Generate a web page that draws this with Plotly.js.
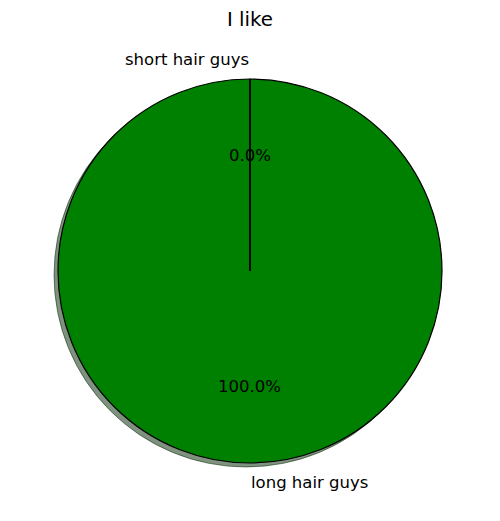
<!DOCTYPE html>
<html>
<head>
<meta charset="utf-8">
<script src="https://cdn.plot.ly/plotly-3.0.1.min.js"></script>
<style>html,body{margin:0;padding:0;background:#fff;}#chart{width:500px;height:521px;}</style>
</head>
<body>
<div id="chart"></div>
<script>
var labels = ["short hair guys", "long hair guys"];
var values = [0, 100];
var colors = ["#1f77b4", "#008000"];
var titleText = "I like";

var W = 500, H = 521;
var cx = 250, cy = 271, R = 192;
var shadowOff = 4;
var FONT = "DejaVu Sans, sans-serif";

function dom(dx, dy) {
  return {
    x: [(cx - R + dx) / W, (cx + R + dx) / W],
    y: [1 - (cy + R + dy) / H, 1 - (cy - R + dy) / H]
  };
}

var shadow = {
  type: "pie", values: values, labels: labels, sort: false,
  direction: "counterclockwise", rotation: 0,
  domain: dom(-shadowOff, shadowOff),
  marker: {colors: values.map(function(){return "rgba(0,38,0,0.5)";}),
           line: {color: "rgba(0,38,0,0.5)", width: 1}},
  textinfo: "none", hoverinfo: "skip", showlegend: false
};
var pie = {
  type: "pie", values: values, labels: labels, sort: false,
  direction: "counterclockwise", rotation: 0,
  domain: dom(0, 0),
  marker: {colors: colors, line: {color: "#000", width: 1.2}},
  textinfo: "none", hoverinfo: "label+percent", showlegend: false
};

var total = values.reduce(function(a,b){return a+b;}, 0);
var annotations = [];
var shapes = [];
var start = 90;
values.forEach(function(v, i) {
  var frac = v / total;
  var t1 = start, t2 = start + 360 * frac;
  var mid = (t1 + t2) / 2 * Math.PI / 180;
  var c = Math.cos(mid), s = Math.sin(mid);
  var anchor = c > 1e-9 ? "left" : (c < -1e-9 ? "right" : (s > 0 ? "right" : "left"));
  annotations.push({
    xref: "paper", yref: "paper",
    x: (cx + 1.1 * R * c) / W, y: 1 - (cy - 1.1 * R * s) / H,
    xanchor: anchor, yanchor: "middle", showarrow: false, borderpad: 0,
    text: labels[i], font: {family: FONT, size: 16.5, color: "#000"}
  });
  annotations.push({
    xref: "paper", yref: "paper",
    x: (cx + 0.6 * R * c) / W, y: 1 - (cy - 0.6 * R * s) / H,
    xanchor: "center", yanchor: "middle", showarrow: false, borderpad: 0,
    text: (frac * 100).toFixed(1) + "%", font: {family: FONT, size: 16.5, color: "#000"}
  });
  // radial wedge edge at the slice boundary
  var a1 = t1 * Math.PI / 180;
  shapes.push({
    type: "line", xref: "paper", yref: "paper",
    x0: cx / W, y0: 1 - cy / H,
    x1: (cx + R * Math.cos(a1)) / W, y1: 1 - (cy - R * Math.sin(a1)) / H,
    line: {color: "#000", width: 1.6}
  });
  start = t2;
});

var layout = {
  width: W, height: H,
  margin: {l: 0, r: 0, t: 0, b: 0},
  paper_bgcolor: "#fff",
  title: {text: titleText, x: 0.5, xanchor: "center", y: 1 - 19 / H, yanchor: "middle",
          font: {family: FONT, size: 19.8, color: "#000"}},
  annotations: annotations,
  shapes: shapes,
  showlegend: false
};

Plotly.newPlot("chart", [shadow, pie], layout, {displayModeBar: false, staticPlot: true});
</script>
</body>
</html>
